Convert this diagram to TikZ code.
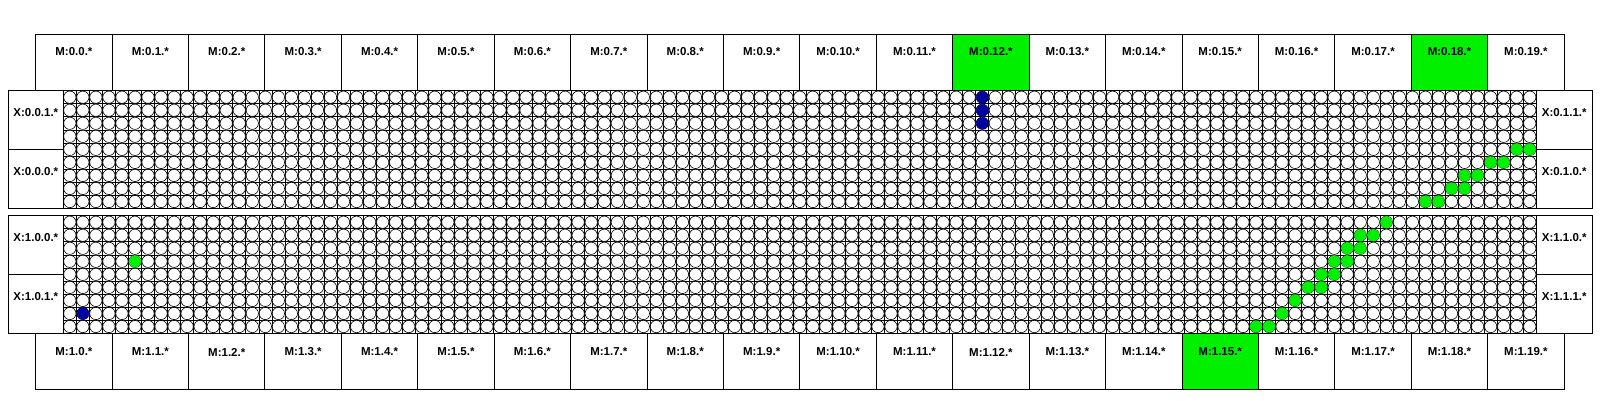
\documentclass[tikz,border=0pt]{standalone}
\usepackage{fontspec}
\setmainfont{Liberation Sans}
\definecolor{lgreen}{RGB}{0,240,0}
\definecolor{dblue}{RGB}{0,0,160}
\begin{document}
\begin{tikzpicture}[x=1pt,y=-1pt,
  boxline/.style={draw=black,line width=1pt},
  gridline/.style={draw=black,line width=0.6pt},
  cellc/.style={draw=black,fill=white,line width=0.6pt},
  gdot/.style={fill=lgreen},
  bdot/.style={fill=dblue},
  lbl/.style={font=\fontsize{11.5}{13}\selectfont\bfseries,inner sep=0pt,text=black}]
\useasboundingbox (0,0) rectangle (1600,400);
\def\gx{63.3}
\def\cs{13.035}
\def\mx{35.7}
\def\mw{76.42}
% ---------- M boxes top and bottom ----------
\foreach \k in {0,...,19}{
  \draw[boxline,fill=white] ({\mx+\k*\mw},34) rectangle ++(\mw,56.7);
  \draw[boxline,fill=white] ({\mx+\k*\mw},333) rectangle ++(\mw,56.7);
}
\foreach \k in {12,18}{
  \draw[boxline,fill=lgreen] ({\mx+\k*\mw},34) rectangle ++(\mw,56.7);
}
\foreach \k in {15}{
  \draw[boxline,fill=lgreen] ({\mx+\k*\mw},333) rectangle ++(\mw,56.7);
}
\foreach \k in {0,...,19}{
  \node[lbl] (mt\k) at ({\mx+(\k+0.5)*\mw},52) {M:0.\k.*};
  \node[lbl] (mb\k) at ({\mx+(\k+0.5)*\mw},352) {M:1.\k.*};
}
% ---------- grids ----------
\foreach \yy in {90.7,215.7}{
  \foreach \i in {0,...,113}{
    \draw[gridline] ({\gx+\i*\cs},\yy) -- ++(0,{9*\cs});
  }
  \foreach \j in {0,...,9}{
    \draw[gridline] (\gx,{\yy+\j*\cs}) -- ++({113*\cs},0);
  }
  \foreach \i in {0,...,112}{
    \foreach \j in {0,...,8}{
      \draw[cellc] ({\gx+(\i+0.5)*\cs},{\yy+(\j+0.5)*\cs}) circle (6.15);
    }
  }
}
% ---------- coloured cells, top panel ----------
\foreach \c/\r in {70/0,70/1,70/2}{
  \fill[bdot] ({\gx+(\c+0.5)*\cs},{90.7+(\r+0.5)*\cs}) circle (6.1);
}
\foreach \c/\r in {111/4,112/4,109/5,110/5,107/6,108/6,106/7,107/7,104/8,105/8}{
  \fill[gdot] ({\gx+(\c+0.5)*\cs},{90.7+(\r+0.5)*\cs}) circle (6.1);
}
% ---------- coloured cells, bottom panel ----------
\foreach \c/\r in {1/7}{
  \fill[bdot] ({\gx+(\c+0.5)*\cs},{215.7+(\r+0.5)*\cs}) circle (6.1);
}
\foreach \c/\r in {5/3,101/0,99/1,100/1,98/2,99/2,97/3,98/3,96/4,97/4,95/5,96/5,94/6,93/7,91/8,92/8}{
  \fill[gdot] ({\gx+(\c+0.5)*\cs},{215.7+(\r+0.5)*\cs}) circle (6.1);
}
% ---------- panel frames and X boxes ----------
\foreach \yy in {90.7,215.7}{
  \draw[boxline] (8.3,\yy) rectangle (1592,{\yy+9*\cs});
  \draw[boxline] (\gx,\yy) -- ++(0,{9*\cs});
  \draw[boxline] ({\gx+113*\cs},\yy) -- ++(0,{9*\cs});
  \draw[boxline] (8.3,{\yy+4.5*\cs}) -- (\gx,{\yy+4.5*\cs});
  \draw[boxline] ({\gx+113*\cs},{\yy+4.5*\cs}) -- (1592,{\yy+4.5*\cs});
}
\node[lbl] (xl001) at (35.8,112.3) {X:0.0.1.*};
\node[lbl] (xl000) at (35.8,171.7) {X:0.0.0.*};
\node[lbl] (xr011) at (1564.2,112.3) {X:0.1.1.*};
\node[lbl] (xr010) at (1564.2,171.7) {X:0.1.0.*};
\node[lbl] (xl100) at (35.8,237.3) {X:1.0.0.*};
\node[lbl] (xl101) at (35.8,296.7) {X:1.0.1.*};
\node[lbl] (xr110) at (1564.2,237.3) {X:1.1.0.*};
\node[lbl] (xr111) at (1564.2,296.7) {X:1.1.1.*};
\end{tikzpicture}
\end{document}
